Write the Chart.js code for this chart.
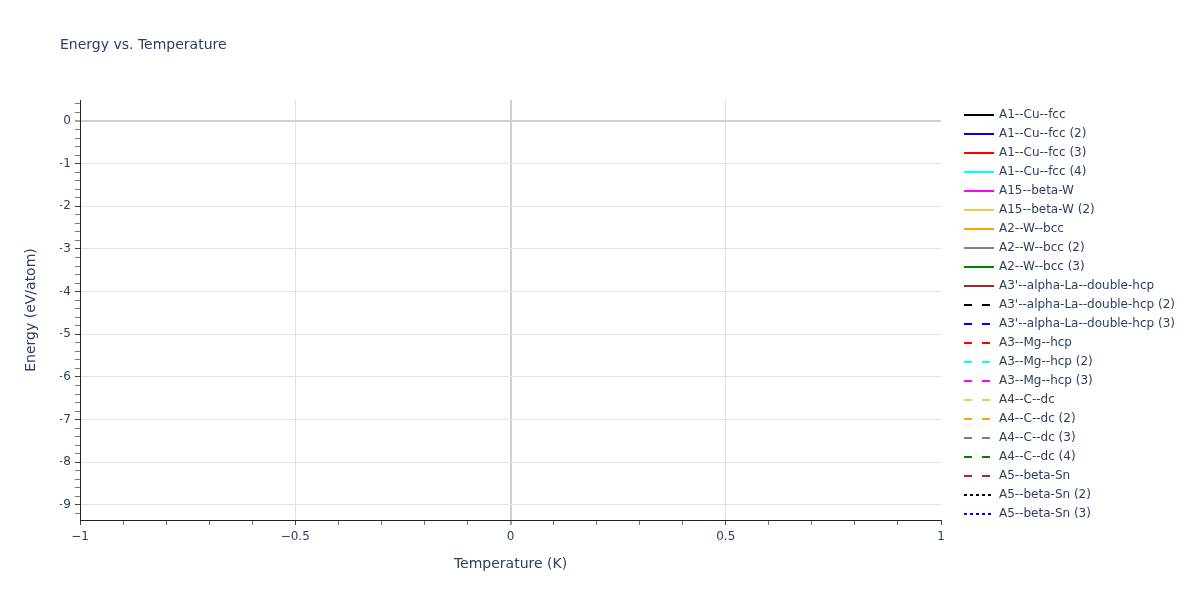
<!DOCTYPE html>
<html>
<head>
<meta charset="utf-8">
<title>Energy vs. Temperature</title>
<script src="https://cdn.jsdelivr.net/npm/chart.js@4/dist/chart.umd.min.js"></script>
<style>
  html, body { margin: 0; padding: 0; background: #ffffff; }
  #wrap { width: 1200px; height: 600px; }
</style>
</head>
<body>
<div id="wrap"><canvas id="chart" width="1200" height="600"></canvas></div>
<script>
// ---------------- data ----------------
const seriesNames = [
  "A1--Cu--fcc", "A1--Cu--fcc (2)", "A1--Cu--fcc (3)", "A1--Cu--fcc (4)",
  "A15--beta-W", "A15--beta-W (2)",
  "A2--W--bcc", "A2--W--bcc (2)", "A2--W--bcc (3)",
  "A3'--alpha-La--double-hcp", "A3'--alpha-La--double-hcp (2)", "A3'--alpha-La--double-hcp (3)",
  "A3--Mg--hcp", "A3--Mg--hcp (2)", "A3--Mg--hcp (3)",
  "A4--C--dc", "A4--C--dc (2)", "A4--C--dc (3)", "A4--C--dc (4)",
  "A5--beta-Sn", "A5--beta-Sn (2)", "A5--beta-Sn (3)"
];
const seriesColors = [
  "#000000", "#0000ff", "#ff0000", "#00ffff", "#ff00ff", "#efc94c", "#ffa500", "#808080", "#008000", "#a52a2a",
  "#000000", "#0000ff", "#ff0000", "#00ffff", "#ff00ff", "#efc94c", "#ffa500", "#808080", "#008000", "#a52a2a",
  "#000000", "#0000ff"
];
const seriesLineStyles = [
  "solid", "solid", "solid", "solid", "solid", "solid", "solid", "solid", "solid", "solid",
  "dash", "dash", "dash", "dash", "dash", "dash", "dash", "dash", "dash", "dash",
  "dot", "dot"
];
// every series holds a single state at T = 0 K (so no line is visible)
const temperatures = [0];
const energies = [
  [-3.72], [-8.90], [-4.10], [-1.90], [-8.35], [-5.20], [-8.85], [-3.50], [-6.60], [-4.85],
  [-8.45], [0.04], [-1.50], [-3.70], [-8.60], [-7.90], [-2.40], [-5.80], [-7.10], [-4.20],
  [-3.20], [-6.90]
];
const xTickLabels = [-1, -0.5, 0, 0.5, 1];
const yTickLabels = [0, -1, -2, -3, -4, -5, -6, -7, -8, -9];
const xRange = [-1, 1];
const yRange = [-9.352, 0.492];
const xMinorStep = 0.1;
const yMinorStep = 0.2;

// ---------------- styling ----------------
const FONT = '"DejaVu Sans", Verdana, sans-serif';
const TEXT = '#2a3f5f';
const GRID = '#e3e3e3';
const ZERO = '#cfcfcf';
const dashMap = { solid: [], dash: [8, 10], dot: [3, 3] };

function r6(v) { return Math.round(v * 1e6) / 1e6; }
function near(a, b) { return Math.abs(a - b) < 1e-6; }
function isIn(list, v) { return list.some(t => near(t, v)); }
function fmt(v) { return (v < 0 ? '\u2212' : '') + String(Math.abs(r6(v))); }
function minorTicks(range, step) {
  const out = [];
  const start = Math.ceil(range[0] / step - 1e-9);
  const end = Math.floor(range[1] / step + 1e-9);
  for (let i = start; i <= end; i++) out.push({ value: r6(i * step) });
  return out;
}

const datasets = seriesNames.map((name, i) => ({
  label: name,
  data: temperatures.map((t, k) => ({ x: t, y: energies[i][k] })),
  borderColor: seriesColors[i],
  backgroundColor: seriesColors[i],
  borderDash: dashMap[seriesLineStyles[i]],
  borderWidth: 2,
  pointRadius: 0,
  pointHoverRadius: 0,
  showLine: true,
  fill: false
}));

// legend drawn in plotly fashion from the chart's datasets
const plotlyLegend = {
  id: 'plotlyLegend',
  afterDraw(chart) {
    const ctx = chart.ctx;
    const x0 = chart.chartArea.right + 23;
    const top = chart.chartArea.top + 14.5;
    const step = 19;
    ctx.save();
    chart.data.datasets.forEach((ds, i) => {
      const y = Math.round(top + i * step);
      ctx.beginPath();
      ctx.strokeStyle = ds.borderColor;
      ctx.lineWidth = 2;
      ctx.lineCap = 'butt';
      ctx.setLineDash(ds.borderDash || []);
      ctx.moveTo(x0, y);
      ctx.lineTo(x0 + 30, y);
      ctx.stroke();
      ctx.setLineDash([]);
      ctx.fillStyle = TEXT;
      ctx.font = '12px ' + FONT;
      ctx.textAlign = 'left';
      ctx.textBaseline = 'middle';
      ctx.fillText(ds.label, x0 + 35, y);
    });
    ctx.restore();
  }
};

const chart = new Chart(document.getElementById('chart'), {
  type: 'scatter',
  data: { datasets },
  plugins: [plotlyLegend],
  options: {
    responsive: false,
    animation: false,
    devicePixelRatio: 1,
    layout: { padding: { left: 60, top: 0, right: 259, bottom: 0 } },
    plugins: {
      legend: { display: false },
      tooltip: { enabled: false },
      title: {
        display: true,
        text: 'Energy vs. Temperature',
        align: 'start',
        color: TEXT,
        font: { family: FONT, size: 14, weight: 'normal' },
        padding: { top: 36.6, bottom: 46.6 }
      }
    },
    scales: {
      x: {
        type: 'linear',
        min: xRange[0],
        max: xRange[1],
        afterBuildTicks: s => { s.ticks = minorTicks(xRange, xMinorStep); },
        afterFit: s => { s.height = 80; },
        ticks: {
          autoSkip: false,
          maxRotation: 0,
          padding: 5,
          color: TEXT,
          font: { family: FONT, size: 12 },
          callback: v => isIn(xTickLabels, v) ? fmt(v) : ''
        },
        grid: {
          color: c => {
            const v = c.tick ? c.tick.value : NaN;
            if (near(v, xRange[0]) || near(v, xRange[1])) return 'rgba(0,0,0,0)';
            if (near(v, 0)) return ZERO;
            return isIn(xTickLabels, v) ? GRID : 'rgba(0,0,0,0)';
          },
          lineWidth: c => (c.tick && near(c.tick.value, 0)) ? 2 : 1,
          tickColor: c => (c.tick && isIn(xTickLabels, c.tick.value)) ? '#444444' : '#777777',
          tickWidth: 1,
          tickLength: 5,
          drawTicks: true
        },
        border: { display: true, color: '#222222', width: 1 },
        title: {
          display: true,
          text: 'Temperature (K)',
          color: TEXT,
          font: { family: FONT, size: 14 },
          padding: { top: 0, bottom: 27.6 }
        }
      },
      y: {
        type: 'linear',
        min: yRange[0],
        max: yRange[1],
        afterBuildTicks: s => { s.ticks = minorTicks(yRange, yMinorStep); },
        afterFit: s => { s.width = 20; },
        ticks: {
          autoSkip: false,
          padding: 4,
          color: TEXT,
          font: { family: FONT, size: 12 },
          callback: v => isIn(yTickLabels, v) ? fmt(v) : ''
        },
        grid: {
          color: c => {
            const v = c.tick ? c.tick.value : NaN;
            if (near(v, 0)) return ZERO;
            return isIn(yTickLabels, v) ? GRID : 'rgba(0,0,0,0)';
          },
          lineWidth: c => (c.tick && near(c.tick.value, 0)) ? 2 : 1,
          tickColor: c => (c.tick && isIn(yTickLabels, c.tick.value)) ? '#444444' : '#777777',
          tickWidth: 1,
          tickLength: 5,
          drawTicks: true
        },
        border: { display: true, color: '#222222', width: 1 },
        title: {
          display: true,
          text: 'Energy (eV/atom)',
          color: TEXT,
          font: { family: FONT, size: 14 },
          padding: { top: -37.4, bottom: 0 }
        }
      }
    }
  }
});
</script>
</body>
</html>
